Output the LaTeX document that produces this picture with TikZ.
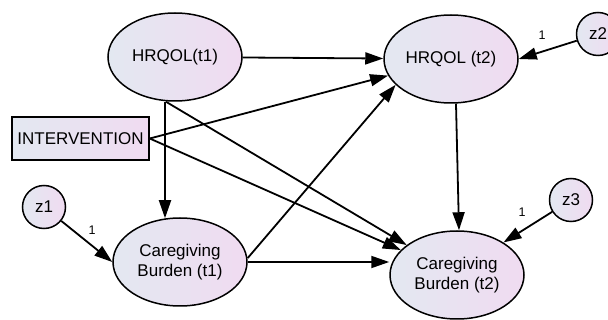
\documentclass[tikz,border=0pt]{standalone}
\usepackage{fontspec}
\setmainfont{Liberation Sans}
\usetikzlibrary{arrows.meta,calc,shapes.geometric}
\definecolor{gl}{HTML}{E3E8F1}
\definecolor{gr}{HTML}{F0DBF1}
\tikzset{
  latent/.style={ellipse,draw,line width=1.5pt,minimum width=134pt,minimum height=88pt,inner sep=0pt,
    left color=gl,right color=gr,font=\fontsize{17}{20}\selectfont,align=center},
  errc/.style={circle,draw,line width=1.5pt,minimum size=43pt,inner sep=0pt,
    left color=gl,right color=gr,font=\fontsize{17}{20}\selectfont},
  obs/.style={rectangle,draw,line width=1.5pt,minimum width=137pt,minimum height=43pt,inner sep=0pt,
    left color=gl,right color=gr,font=\fontsize{17}{20}\selectfont},
  path/.style={line width=1.8pt,-{Triangle[length=18pt,width=12pt]}},
  wlab/.style={font=\fontsize{12.5}{13}\selectfont,inner sep=0pt}
}
\begin{document}
\begin{tikzpicture}[x=1pt,y=-1pt]
\useasboundingbox (0,0) rectangle (608,320);
\node[latent] (h1) at (175,57) {HRQOL(t1)};
\node[latent] (h2) at (451,59) {HRQOL (t2)};
\node[obs] (iv) at (80.5,138.5) {INTERVENTION};
\node[latent] (c1) at (180,262) {Caregiving\\Burden (t1)};
\node[latent] (c2) at (457,275) {Caregiving\\Burden (t2)};
\node[errc] (z1) at (44,207) {z1};
\node[errc] (z2) at (598,34) {z2};
\node[errc] (z3) at (571,200) {z3};
\coordinate (h1b) at ($(h1.south)+(-9,0)$);
\coordinate (h1bb) at ($(h1.south)+(-10,0)$);
\coordinate (c1t) at ($(c1.north)+(-15,1)$);
\coordinate (h2b) at ($(h2.south)+(5,0)$);
\coordinate (c2t) at ($(c2.north)+(2,0)$);
\coordinate (c1r) at ($(c1.east)+(0,-4)$);
\draw[path] (h1) -- (h2);
\draw[path] (iv.east) -- (h2);
\draw[path] (iv.east) -- (c2);
\draw[path] (h1b) -- (c2);
\draw[path] (h1bb) -- (c1t);
\draw[path] (c1r) -- (h2.205);
\draw[path] (c1.east) -- (c1.east -| c2.west);
\draw[path] (h2b) -- (c2t);
\draw[path] (z2) -- (h2.east);
\draw[path] (z1) -- (c1.west);
\draw[path] (z3) -- (c2.35);
\node[wlab] (l2) at (542,35) {1};
\node[wlab] (l1) at (92,230) {1};
\node[wlab] (l3) at (522,212) {1};
\end{tikzpicture}
\end{document}
